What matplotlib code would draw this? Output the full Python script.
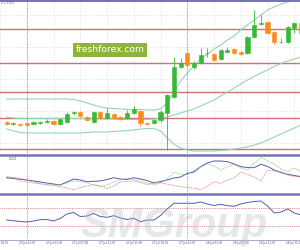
import matplotlib
matplotlib.use("Agg")
from matplotlib import pyplot as plt
from matplotlib.lines import Line2D

# hourly candles, 26 Jul 20:00 .. 28 Jul 16:00
opens = [1.1028, 1.10265, 1.10265, 1.10265, 1.1026, 1.10275, 1.10277, 1.10293, 1.1026, 1.10283,
         1.10365, 1.10383, 1.1033, 1.1028, 1.1038, 1.1032, 1.1036, 1.1033, 1.1032, 1.1037,
         1.10393, 1.1027, 1.10273, 1.1030, 1.1037, 1.1053, 1.1083, 1.1097, 1.1083, 1.1087,
         1.10965, 1.1096, 1.1091, 1.1098, 1.1101, 1.1098, 1.1097, 1.1113, 1.1126, 1.1128,
         1.1118, 1.11077, 1.1108, 1.1122, 1.1127]
highs = [1.1029, 1.1028, 1.10275, 1.10275, 1.1029, 1.1029, 1.1031, 1.1030, 1.1031, 1.1038,
         1.1039, 1.1039, 1.1034, 1.10395, 1.1039, 1.1042, 1.1037, 1.1034, 1.1040, 1.1044,
         1.1040, 1.10283, 1.1031, 1.1040, 1.1056, 1.1093, 1.1092, 1.1098, 1.1089, 1.1102,
         1.1102, 1.1097, 1.1101, 1.1103, 1.1102, 1.1099, 1.1114, 1.1140, 1.1135, 1.1129,
         1.1119, 1.1112, 1.1124, 1.1128, 1.1128]
lows = [1.1025, 1.1025, 1.10245, 1.10245, 1.1025, 1.1026, 1.1027, 1.1025, 1.1025, 1.1027,
        1.1035, 1.1033, 1.1029, 1.1027, 1.1031, 1.1031, 1.1031, 1.1030, 1.1031, 1.1036,
        1.1024, 1.1025, 1.10265, 1.1028, 1.1000, 1.1052, 1.1082, 1.1084, 1.1081, 1.1086,
        1.1093, 1.1089, 1.1090, 1.1097, 1.1096, 1.1095, 1.1096, 1.1112, 1.1125, 1.1116,
        1.1106, 1.1107, 1.1107, 1.1117, 1.1116]
closes = [1.1026, 1.1027, 1.10255, 1.1025, 1.1028, 1.1028, 1.10287, 1.10257, 1.10305, 1.1036,
          1.10375, 1.10343, 1.1030, 1.1038, 1.10317, 1.1037, 1.1032, 1.1031, 1.1037, 1.1041,
          1.10267, 1.10264, 1.1030, 1.1038, 1.1055, 1.1083, 1.1087, 1.1085, 1.1087, 1.1095,
          1.1097, 1.1090, 1.1100, 1.1100, 1.1097, 1.1096, 1.1113, 1.1125, 1.1127, 1.1117,
          1.1108, 1.11083, 1.1123, 1.1127, 1.1117]

# bollinger bands
bb_upper = [1.1051] * 10 + [1.10505, 1.1049, 1.1047, 1.1045, 1.1043, 1.1042, 1.10415, 1.1041, 1.10405, 1.1040,
                            1.10405, 1.1040, 1.1040, 1.1041, 1.1047, 1.1058, 1.1069, 1.1077, 1.1084, 1.1091,
                            1.1096, 1.1101, 1.1105, 1.1110, 1.1114, 1.1120, 1.1125, 1.1130, 1.1135, 1.1140,
                            1.1143, 1.1146, 1.1148, 1.11495, 1.1151]
bb_mid = [1.1033, 1.1032, 1.10315, 1.10315, 1.10315, 1.10315, 1.10315, 1.10315, 1.10315, 1.10315,
          1.10315, 1.10315, 1.10315, 1.1031, 1.1031, 1.1031, 1.1031, 1.10305, 1.10305, 1.10305,
          1.10305, 1.10305, 1.1031, 1.10315, 1.1033, 1.1035, 1.1037, 1.1039, 1.1041, 1.1044,
          1.1047, 1.1050, 1.1054, 1.1058, 1.1062, 1.1066, 1.1070, 1.10735, 1.1077, 1.1080,
          1.10835, 1.10865, 1.1089, 1.1091, 1.1093]
bb_lower = [1.1021, 1.1019, 1.10175] + [1.1017] * 9 + [1.10175, 1.1018, 1.1018, 1.1018, 1.10185, 1.1019,
            1.10195, 1.1020, 1.1021, 1.10215, 1.10215, 1.1019, 1.1012, 1.1006, 1.1002, 1.1000,
            1.0999, 1.0999, 1.0999, 1.0999, 1.09995, 1.1000, 1.1001, 1.1002, 1.1003, 1.1005,
            1.1007, 1.1010, 1.1013, 1.1016, 1.1019, 1.1022, 1.1025]

levels = [1.1121, 1.1087, 1.1058, 1.1032, 1.1001]
grid_levels = [1.1135, 1.1103, 1.1071, 1.1039, 1.1007]

# middle oscillator panel
osc_main = [16.3, 15.5, 14.7, 14, 13, 12, 11, 10, 9, 12, 15, 14, 12.3, 12.7, 13, 14.5, 16.3, 15, 14.5, 16.3,
            15, 13.5, 11, 12.5, 14, 16, 17, 20.5, 22, 27.3, 31, 33, 33, 32.3, 30, 27.3, 26.5, 26.3, 29.7, 27.5,
            24, 21.5, 19.7, 18.5, 17.3]
osc_green = [15.7, 16.3, 13, 12, 11, 10, 9, 9, 9.5, 11, 13, 12.5, 11, 9, 7.5, 9, 12, 14, 15.7, 14.5,
             13, 11, 9, 11, 15, 21.7, 20, 19, 24, 27.3, 30, 28, 24, 27, 29.7, 26, 24, 31, 36.5, 33,
             29.7, 25, 22.5, 26, 22.5]
osc_red = [17.3, 16.5, 15.7, 14, 12, 10.5, 9.5, 8.5, 7.3, 6, 4, 6.5, 8, 9.5, 8, 5.5, 8, 12, 12.5, 13,
           11.5, 9.5, 11, 11.5, 9.7, 8.5, 7.3, 6.5, 5.7, 4.5, 8, 12.3, 10.7, 14, 16, 22, 19.5, 17, 13, 24,
           23, 22, 19, 17.5, 17]

# rsi panel
rsi = [44.4, 42.9, 41.1, 40, 42.2, 45.1, 45.6, 42.2, 47.8, 57.8, 61.1, 52.2, 53.3, 58.9, 52.2, 50.4, 54, 48.9,
       45.6, 48.2, 40.7, 44.4, 44.4, 54.4, 68.9, 81.6, 81.6, 81.6, 81.6, 84.4, 80, 76.7, 79.3, 76.2, 74.9, 80,
       83.3, 85.6, 86.7, 75.6, 60, 62.2, 68.9, 60, 55.6]
rsi_levels = [70, 30]

tick_pos = [-1, 3, 7, 11, 15, 19, 23, 27, 31, 35, 39, 43]
tick_labels = ["26 Jul 19:00", "26 Jul 23:00", "27 Jul 03:00", "27 Jul 07:00", "27 Jul 11:00",
               "27 Jul 15:00", "27 Jul 19:00", "27 Jul 23:00", "28 Jul 03:00", "28 Jul 07:00",
               "28 Jul 11:00", "28 Jul 15:00"]
day_breaks = [3, 27]

UP = "#37b937"
DOWN = "#fb8c1c"
SEP = "#7272b4"

fig = plt.figure(figsize=(3, 2.5), dpi=100)
H = 250.0
ax = fig.add_axes([0, 1 - 154 / H, 1, 153 / H])
ax1 = fig.add_axes([0, 1 - 193 / H, 1, 37 / H])
ax2 = fig.add_axes([0, 1 - 239 / H, 1, 44 / H])

for a in (ax, ax1, ax2):
    a.set_xlim(-0.07, 43.85)
    for s in a.spines.values():
        s.set_visible(False)
    a.set_yticks([])
    a.set_xticks(tick_pos)
    a.tick_params(length=0, labelbottom=False, labelleft=False)
    for d in day_breaks:
        a.axvline(d, color="#6c6cb8", lw=0.6, ls=(0, (1, 1.5)), zorder=3)

# main price panel
ax.set_ylim(1.0996, 1.1149)
ax.set_yticks(grid_levels)
ax.tick_params(labelleft=False)
ax.grid(True, color="#d4d4d4", lw=0.5, ls=(0, (1, 1.5)))
for lv in levels:
    ax.axhline(lv, color="#cd7474", lw=1.0, zorder=2)
xs = list(range(len(opens)))
ax.plot(xs, bb_upper, color="#98d4b4", lw=0.8, zorder=2)
ax.plot(xs, bb_mid, color="#98d4b4", lw=0.8, zorder=2)
ax.plot(xs, bb_lower, color="#98d4b4", lw=0.8, zorder=2)
for i in xs:
    c = UP if closes[i] >= opens[i] else DOWN
    ax.vlines(i, lows[i], highs[i], color=c, lw=0.6, zorder=4)
    lo, hi = min(opens[i], closes[i]), max(opens[i], closes[i])
    ax.bar(i, max(hi - lo, 0.00005), bottom=lo, width=0.62, color=c, edgecolor=c, lw=0.4, zorder=5)

# oscillator panel
ax1.set_ylim(1, 38)
ax1.plot(xs, osc_main, color="#5a5ab0", lw=0.7)
ax1.plot(xs, osc_green, color="#6cbf6c", lw=0.6, ls=(0, (1, 1)))
ax1.plot(xs, osc_red, color="#d86a6a", lw=0.6, ls=(0, (1, 1)))
ax1.text(0.3, 36.5, ".0221", fontsize=2.2, color="#555555", va="top")

# rsi panel
ax2.set_ylim(2.2, 100)
for lv in rsi_levels:
    ax2.axhline(lv, color="#d27070", lw=0.6, ls=(0, (1, 1.2)))
ax2.plot(xs, rsi, color="#5a5ab0", lw=0.7)
ax2.set_xticklabels(tick_labels)
ax2.tick_params(labelbottom=True, labelsize=2.0, labelcolor="#555555", pad=1.2)

# separators
for yp, lw in [(0.8, 1.4), (155, 1.8), (194.3, 1.8)]:
    fig.add_artist(Line2D([0, 1], [1 - yp / H] * 2, color=SEP, lw=lw))
fig.add_artist(Line2D([0, 1], [1 - 239.5 / H] * 2, color="#9a9ac4", lw=0.6))

fig.text(0.002, 1 - 3.5 / H, "2 1.1073", fontsize=2.2, color="#555555", va="center")
fig.text(110 / 300, 1 - 50 / H, "freshforex.com", fontsize=6.6, color="white",
         ha="center", va="center",
         bbox=dict(boxstyle="square,pad=0.25", fc="#8db53c", ec="none"))
fig.text(174 / 300, 1 - 226 / H, "SMGroup", fontsize=30, color="#bdbdbd", alpha=0.35,
         family="Liberation Sans", weight="bold", style="italic", ha="center", va="center", zorder=10)

fig.savefig("out.png", dpi=100)
print("Wrote out.png")
